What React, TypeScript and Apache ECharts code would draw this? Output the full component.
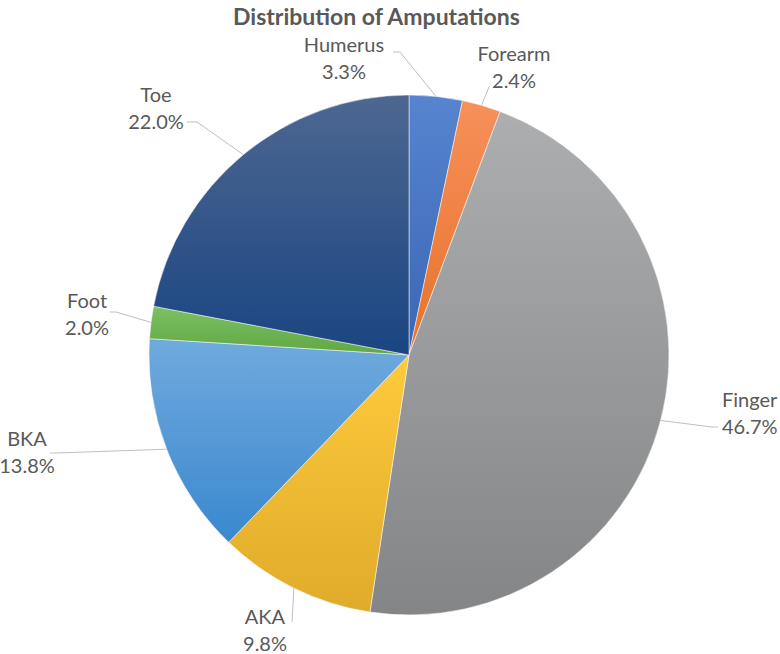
import { useEffect, useRef } from "react";
import * as echarts from "echarts";

const categories = ["Humerus", "Forearm", "Finger", "AKA", "BKA", "Foot", "Toe"];
const percentages = [3.3, 2.4, 46.7, 9.8, 13.8, 2.0, 22.0];
const topColors = ["#5784CF", "#F6905A", "#ACAEAF", "#FFCA3C", "#70AADE", "#7CC063", "#4D6791"];
const bottomColors = ["#3A66B5", "#E8722A", "#838586", "#DFAB2A", "#3A88CE", "#60A744", "#1A4582"];

const CX = 409;
const CY = 355;
const R = 260;

// label anchor positions (layout only)
const labelAnchors = [
  { x: 344, y: 57, align: "center", line: [[400, 52], [393, 52]] },
  { x: 514, y: 66, align: "center", line: [[489, 87], [490, 86]] },
  { x: 722, y: 412, align: "left", line: [[712, 427], [718, 427]] },
  { x: 265, y: 629, align: "center", line: [[292, 622], [292, 622]] },
  { x: 27, y: 451, align: "center", line: [[56, 453], [50, 453]] },
  { x: 87, y: 313, align: "center", line: [[116, 312], [110, 312]] },
  { x: 156, y: 107, align: "center", line: [[197, 122], [187, 122]] },
];

export default function App() {
  const ref = useRef<HTMLDivElement>(null);
  useEffect(() => {
    document.body.style.margin = "0";
    if (!ref.current) return;
    const chart = echarts.init(ref.current, null, { renderer: "svg" });
    const total = percentages.reduce((a, b) => a + b, 0);
    const midAngles: number[] = [];
    let cum = 0;
    percentages.forEach((v) => {
      midAngles.push(((cum + v / 2) / total) * Math.PI * 2);
      cum += v;
    });
    const data = categories.map((name, i) => ({
      name,
      value: percentages[i],
      itemStyle: {
        color: new echarts.graphic.LinearGradient(0, 0, 0, 1, [
          { offset: 0, color: topColors[i] },
          { offset: 1, color: bottomColors[i] },
        ]),
      },
    }));
    chart.setOption({
      animation: false,
      title: {
        text: "Distribution of Amputations",
        left: 228,
        top: -1,
        textStyle: {
          fontFamily: "Lato",
          fontWeight: "bold",
          fontSize: 23,
          color: "#595959",
        },
      },
      series: [
        {
          type: "pie",
          center: [CX, CY],
          radius: R,
          startAngle: 90,
          clockwise: true,
          avoidLabelOverlap: false,
          minShowLabelAngle: 0,
          data,
          itemStyle: { borderColor: "#ffffff", borderWidth: 0.5 },
          label: {
            show: true,
            position: "outside",
            formatter: (p: any) => `${p.name}\n${Number(p.value).toFixed(1)}%`,
            fontFamily: "Lato",
            fontSize: 20,
            lineHeight: 27,
            color: "#595959",
          },
          labelLine: {
            show: true,
            lineStyle: { color: "#BFBFBF", width: 1 },
          },
          labelLayout: (params: any) => {
            const i = params.dataIndex;
            const a = labelAnchors[i];
            const ang = midAngles[i];
            const ex = CX + R * Math.sin(ang);
            const ey = CY - R * Math.cos(ang);
            return {
              x: a.x,
              y: a.y,
              align: a.align,
              verticalAlign: "middle",
              labelLinePoints: [[ex, ey], a.line[0], a.line[1]],
            };
          },
        },
      ],
    });
    return () => chart.dispose();
  }, []);
  return <div ref={ref} style={{ width: 780, height: 654 }} />;
}
